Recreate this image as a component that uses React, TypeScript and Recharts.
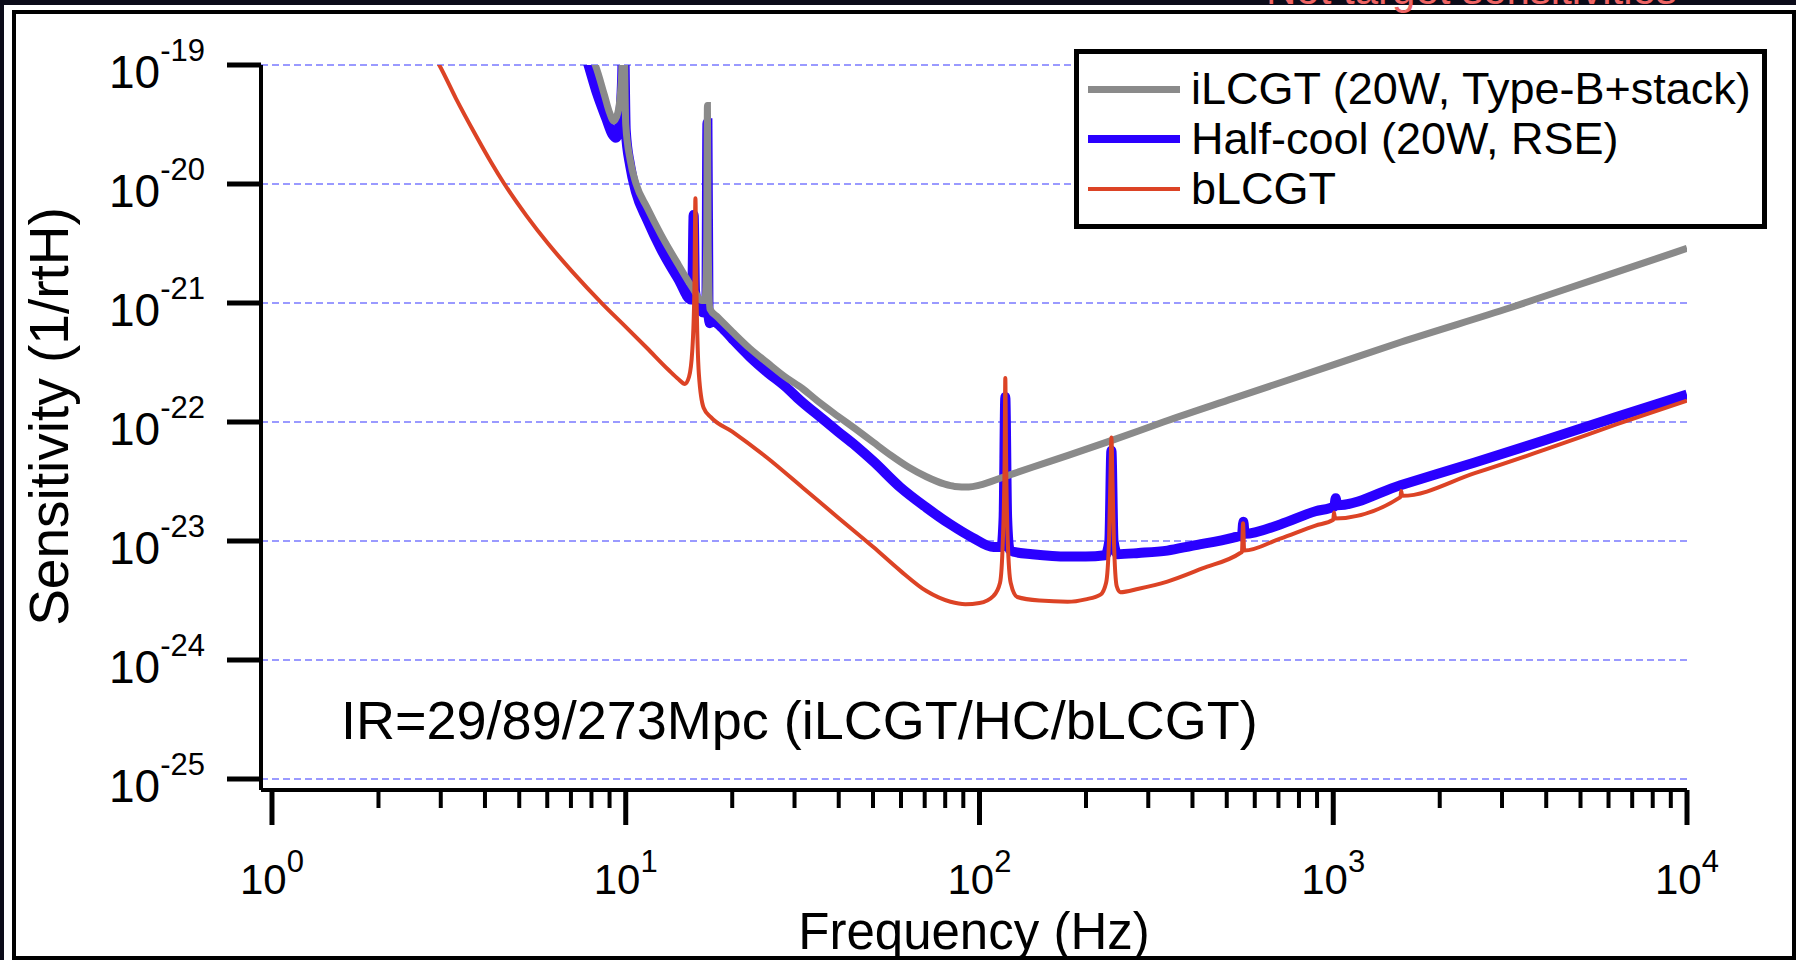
import React from "react";
import { LineChart, Line, XAxis, YAxis, CartesianGrid, Legend } from "recharts";

const FONT = '"Liberation Sans", Arial, Helvetica, sans-serif';

// frequency (Hz) and sensitivity (1/rtHz)
const ilcgtFreq = [
  7.9, 8.2, 8.7, 9.0, 9.25, 9.5, 9.73, 9.86, 10.0, 10.3,
  10.7, 11.5, 12.6, 14.1, 15.5, 16.4, 16.75, 16.94, 17.02, 17.1,
  17.3, 18.2, 20, 22.4, 25.1, 28.2, 31.6, 34.8, 39.8, 44.7,
  50.1, 56.2, 63.1, 70.8, 79.4, 85.1, 93.3, 100, 117.5, 141,
  178, 239, 331, 522, 1000, 1549, 3162, 5623, 10000,
];
const ilcgtSens = [
  1.26e-19, 1.0e-19, 5.62e-20, 3.98e-20, 3.39e-20, 3.98e-20, 7.94e-20, 3.16e-19, 3.16e-20, 1.58e-20,
  1.0e-20, 6.31e-21, 3.72e-21, 2.09e-21, 1.32e-21, 1.05e-21, 1.05e-21, 3.16e-21, 4.57e-20, 3.16e-21,
  8.91e-22, 7.59e-22, 5.75e-22, 4.17e-22, 3.16e-22, 2.4e-22, 1.91e-22, 1.51e-22, 1.12e-22, 8.71e-23,
  6.76e-23, 5.25e-23, 4.17e-23, 3.47e-23, 3.02e-23, 2.88e-23, 2.85e-23, 2.95e-23, 3.47e-23, 4.17e-23,
  5.25e-23, 7.08e-23, 1.0e-22, 1.58e-22, 3.02e-22, 4.68e-22, 9.12e-22, 1.62e-21, 2.88e-21,
];

const halfCoolFreq = [
  7.67, 7.85, 8.32, 8.81, 9.16, 9.38, 9.59, 9.77, 9.86, 10.0,
  10.3, 10.7, 11.5, 12.6, 14.1, 15.3, 15.42, 15.56, 15.7, 16.03,
  16.6, 16.9, 17.02, 17.14, 17.3, 17.6, 18.6, 20, 22.4, 25.1,
  28.2, 31.2, 35.5, 39.8, 44.7, 50.1, 59.8, 70.8, 82.8, 95.5,
  109.6, 115.3, 117, 118.3, 119.7, 121.6, 124.7, 141, 177.4, 199.5,
  226.5, 232.8, 236, 239.3, 245.5, 281.8, 339.6, 398, 522, 552,
  557, 562, 708, 891, 1007, 1016, 1026, 1549, 2512, 3981,
  6310, 10000,
];
const halfCoolSens = [
  1.26e-19, 1.0e-19, 5.62e-20, 3.55e-20, 2.63e-20, 2.45e-20, 3.16e-20, 7.94e-20, 3.16e-19, 2.82e-20,
  1.41e-20, 8.51e-21, 5.01e-21, 2.82e-21, 1.58e-21, 1.07e-21, 1.26e-21, 5.5e-21, 1.26e-21, 9.55e-22,
  8.32e-22, 1.0e-21, 3.24e-20, 7.94e-22, 6.76e-22, 7.08e-22, 6.31e-22, 5.01e-22, 3.55e-22, 2.63e-22,
  2.0e-22, 1.51e-22, 1.1e-22, 8.32e-23, 6.31e-23, 4.68e-23, 2.82e-23, 1.91e-23, 1.38e-23, 1.07e-23,
  8.91e-24, 8.91e-24, 1.58e-23, 1.62e-22, 1.58e-23, 8.51e-24, 8.13e-24, 7.76e-24, 7.41e-24, 7.41e-24,
  7.59e-24, 1.0e-23, 5.75e-23, 1.0e-23, 7.76e-24, 7.94e-24, 8.32e-24, 9.12e-24, 1.07e-23, 1.12e-23,
  1.45e-23, 1.15e-23, 1.38e-23, 1.78e-23, 1.95e-23, 2.29e-23, 2.0e-23, 2.95e-23, 4.57e-23, 7.08e-23,
  1.1e-22, 1.7e-22,
];

const blcgtFreq = [
  2.88, 2.97, 3.31, 3.72, 4.17, 4.54, 5.25, 6.03, 7.08, 8.55,
  10.0, 11.5, 13.2, 14.1, 14.7, 15.1, 15.42, 15.63, 15.74, 15.85,
  16.1, 16.6, 17.4, 20, 25.1, 31.6, 39.8, 50.1, 59.8, 70.8,
  82.8, 91.2, 100, 109.6, 114.3, 116.4, 117.8, 118.3, 118.9, 120.2,
  122.5, 127.9, 147.9, 177.4, 199.5, 219.8, 228, 232.3, 234.4, 236,
  237.7, 239.9, 244.3, 250, 281.8, 339.6, 426.6, 545.8, 552, 556,
  560, 708, 891, 1000, 1005, 1012, 1549, 1556, 1567, 2512,
  3981, 6310, 10000,
];
const blcgtSens = [
  1.17e-19, 1.0e-19, 5.25e-20, 2.75e-20, 1.51e-20, 1.0e-20, 5.37e-21, 3.16e-21, 1.82e-21, 1.0e-21,
  6.31e-22, 4.17e-22, 2.75e-22, 2.29e-22, 2.09e-22, 2.4e-22, 3.98e-22, 1.26e-21, 7.59e-21, 1.26e-21,
  2.51e-22, 1.32e-22, 1.1e-22, 8.32e-23, 5.01e-23, 2.82e-23, 1.58e-23, 8.91e-24, 5.62e-24, 3.8e-24,
  3.09e-24, 2.95e-24, 3.02e-24, 3.47e-24, 4.47e-24, 1.0e-23, 5.01e-23, 2.34e-22, 5.01e-23, 1.0e-23,
  4.47e-24, 3.39e-24, 3.16e-24, 3.09e-24, 3.24e-24, 3.55e-24, 4.47e-24, 1.0e-23, 3.16e-23, 7.41e-23,
  3.16e-23, 1.0e-23, 4.17e-24, 3.72e-24, 3.98e-24, 4.57e-24, 5.89e-24, 7.94e-24, 8.13e-24, 1.41e-23,
  8.32e-24, 1.05e-23, 1.35e-23, 1.51e-23, 1.74e-23, 1.55e-23, 2.34e-23, 2.63e-23, 2.4e-23, 3.72e-23,
  5.89e-23, 9.55e-23, 1.51e-22,
];

const xTicks = [
  1, 2, 3, 4, 5, 6, 7, 8, 9,
  10, 20, 30, 40, 50, 60, 70, 80, 90,
  100, 200, 300, 400, 500, 600, 700, 800, 900,
  1000, 2000, 3000, 4000, 5000, 6000, 7000, 8000, 9000,
  10000,
];
const yTicks = [1e-25, 1e-24, 1e-23, 1e-22, 1e-21, 1e-20, 1e-19];

const seriesNames = ["iLCGT (20W, Type-B+stack)", "Half-cool (20W, RSE)", "bLCGT"];
const rangeNote = "IR=29/89/273Mpc (iLCGT/HC/bLCGT)";
const headerNote = "Not target sensitivities";

const GRAY = "#8a8a8a";
const BLUE = "#2a00ff";
const RED = "#dc4325";

const toPoints = (f: number[], h: number[]) => f.map((v, i) => ({ f: v, h: h[i] }));
const ilcgtData = toPoints(ilcgtFreq, ilcgtSens);
const halfCoolData = toPoints(halfCoolFreq, halfCoolSens);
const blcgtData = toPoints(blcgtFreq, blcgtSens);

const legendRows = [
  { name: seriesNames[0], color: GRAY, width: 7 },
  { name: seriesNames[1], color: BLUE, width: 8 },
  { name: seriesNames[2], color: RED, width: 4 },
];

function YTick({ x, y, payload }: any) {
  const exp = Math.round(Math.log10(payload.value));
  return (
    <g>
      <line x1={x - 34} x2={x} y1={y} y2={y} stroke="#000" strokeWidth={5} />
      <text x={x - 56} y={y + 23} textAnchor="end" fontSize={46} fontFamily={FONT} fill="#000">
        10
        <tspan fontSize={31} dy={-27}>
          {exp}
        </tspan>
      </text>
    </g>
  );
}

function XTick({ x, y, payload }: any) {
  const lg = Math.log10(payload.value);
  const exp = Math.round(lg);
  const major = Math.abs(lg - exp) < 1e-6;
  return (
    <g>
      <line x1={x} x2={x} y1={y} y2={y + (major ? 35 : 18)} stroke="#000" strokeWidth={major ? 5 : 4} />
      {major && (
        <text x={x} y={y + 104} textAnchor="middle" fontSize={42} fontFamily={FONT} fill="#000">
          10
          <tspan fontSize={31} dy={-22}>
            {exp}
          </tspan>
        </text>
      )}
    </g>
  );
}

const renderXTitle = (props: any) => {
  const vb = props.viewBox ?? { x: 261, y: 790, width: 1426, height: 150 };
  return (
    <text x={vb.x + vb.width / 2} y={vb.y + 159} textAnchor="middle" fontSize={51} fontFamily={FONT} fill="#000">
      {props.value}
    </text>
  );
};

const renderYTitle = (props: any) => {
  const vb = props.viewBox ?? { x: 61, y: 65, width: 200, height: 725 };
  const cx = vb.x + 7;
  const cy = vb.y + vb.height / 2 - 11;
  return (
    <text
      x={cx}
      y={cy}
      transform={`rotate(-90, ${cx}, ${cy})`}
      textAnchor="middle"
      fontSize={55}
      fontFamily={FONT}
      fill="#000"
    >
      {props.value}
    </text>
  );
};

function LegendBox() {
  return (
    <div
      style={{
        boxSizing: "border-box",
        width: 693,
        height: 180,
        border: "5px solid #000",
        background: "#fff",
        padding: "10px 0 0 9px",
        fontFamily: FONT,
        fontSize: 45,
        color: "#000",
      }}
    >
      {legendRows.map((row) => (
        <div key={row.name} style={{ display: "flex", alignItems: "center", height: 50 }}>
          <span style={{ display: "inline-block", width: 92, height: row.width, background: row.color, marginRight: 11 }} />
          <span style={{ lineHeight: "50px", whiteSpace: "nowrap" }}>{row.name}</span>
        </div>
      ))}
    </div>
  );
}

export default function App() {
  return (
    <div style={{ position: "relative", width: 1796, height: 960, background: "#0b0b19", overflow: "hidden" }}>
      <style>{"body{margin:0}"}</style>
      <div style={{ position: "absolute", left: 4, top: 5, right: 0, bottom: 0, background: "#fff" }} />
      <div
        style={{
          position: "absolute",
          left: 12,
          top: 10,
          width: 1784,
          height: 950,
          border: "4px solid #000",
          boxSizing: "border-box",
        }}
      />
      <div style={{ position: "absolute", left: 0, top: 0 }}>
        <LineChart width={1796} height={960} margin={{ top: 65, right: 109, bottom: 20, left: 61 }}>
          <CartesianGrid vertical={false} stroke="#7a7aff" strokeDasharray="7 4" strokeWidth={1.5} />
          <XAxis
            dataKey="f"
            type="number"
            scale="log"
            domain={[0.931, 10000]}
            allowDataOverflow
            ticks={xTicks}
            interval={0}
            height={150}
            tickSize={0}
            tickMargin={0}
            tickLine={false}
            axisLine={{ stroke: "#000", strokeWidth: 4 }}
            tick={<XTick />}
            label={{ value: "Frequency (Hz)", content: renderXTitle }}
          />
          <YAxis
            dataKey="h"
            type="number"
            scale="log"
            domain={[8.1e-26, 1e-19]}
            allowDataOverflow
            ticks={yTicks}
            interval={0}
            width={200}
            tickSize={0}
            tickMargin={0}
            tickLine={false}
            axisLine={{ stroke: "#000", strokeWidth: 4 }}
            tick={<YTick />}
            label={{ value: "Sensitivity (1/rtH)", content: renderYTitle }}
          />
          <Line
            data={halfCoolData}
            dataKey="h"
            name={seriesNames[1]}
            type="monotone"
            stroke={BLUE}
            strokeWidth={10}
            dot={false}
            isAnimationActive={false}
          />
          <Line
            data={ilcgtData}
            dataKey="h"
            name={seriesNames[0]}
            type="monotone"
            stroke={GRAY}
            strokeWidth={7}
            dot={false}
            isAnimationActive={false}
          />
          <Line
            data={blcgtData}
            dataKey="h"
            name={seriesNames[2]}
            type="monotone"
            stroke={RED}
            strokeWidth={4}
            dot={false}
            isAnimationActive={false}
          />
          <Legend
            layout="vertical"
            align="center"
            verticalAlign="middle"
            wrapperStyle={{ top: 49, left: 1074, width: 693, height: 180 }}
            content={() => <LegendBox />}
          />
        </LineChart>
      </div>
      <svg
        width={1796}
        height={960}
        style={{ position: "absolute", left: 0, top: 0, pointerEvents: "none" }}
      >
        <text x={1266} y={4} fontSize={42} fontFamily={FONT} fill="#ee6464">
          {headerNote}
        </text>
        <text x={341} y={739} fontSize={54} fontFamily={FONT} fill="#000">
          {rangeNote}
        </text>
      </svg>
    </div>
  );
}
